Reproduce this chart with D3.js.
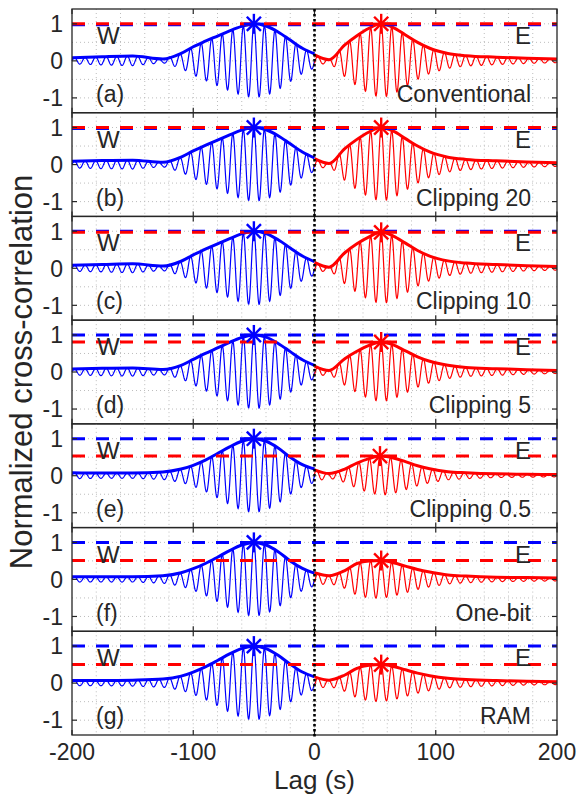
<!DOCTYPE html>
<html>
<head>
<meta charset="utf-8">
<script src="https://cdn.jsdelivr.net/npm/d3@7"></script>
<style>
  body { margin: 0; background: #fff; }
  text { font-family: "Liberation Sans", Arial, Helvetica, sans-serif; fill: #262626; }
</style>
</head>
<body>
<div id="chart-area"></div>
<script>
// panel labels / method names
var panelLetters = ['(a)', '(b)', '(c)', '(d)', '(e)', '(f)', '(g)'];
var methods = ['Conventional', 'Clipping 20', 'Clipping 10', 'Clipping 5', 'Clipping 0.5', 'One-bit', 'RAM'];

var lagTicks = [-200, -100, 0, 100, 200];
var yTicks = [-1, 0, 1];

// peak (star) positions
var westPeakLag = [-50, -50, -50, -50, -50, -50, -50];
var westPeak = [1, 1, 1, 1, 1, 1, 1];
var eastPeakLag = [55, 55, 55, 55, 54, 55, 55];
var eastPeak = [1.0, 1.0, 0.97, 0.81, 0.53, 0.51, 0.5];

// envelope knots (lag, s)
var westLags = [-200, -175, -150, -125, -110, -100, -90, -80, -70, -60, -50, -40, -30, -20, -10, 0];
var westEnv = [
  [0.08, 0.11, 0.13, 0.05, 0.2, 0.38, 0.53, 0.67, 0.81, 0.93, 1.0, 0.94, 0.78, 0.56, 0.34, 0.19],
  [0.09, 0.11, 0.12, 0.06, 0.2, 0.37, 0.52, 0.66, 0.8, 0.93, 1.0, 0.94, 0.78, 0.56, 0.34, 0.18],
  [0.08, 0.1, 0.12, 0.06, 0.19, 0.36, 0.52, 0.66, 0.8, 0.93, 1.0, 0.94, 0.77, 0.55, 0.33, 0.18],
  [0.08, 0.1, 0.11, 0.07, 0.18, 0.34, 0.5, 0.65, 0.8, 0.93, 1.0, 0.94, 0.77, 0.55, 0.33, 0.18],
  [0.08, 0.07, 0.07, 0.1, 0.18, 0.28, 0.42, 0.6, 0.78, 0.93, 1.0, 0.93, 0.75, 0.5, 0.3, 0.18],
  [0.07, 0.07, 0.07, 0.1, 0.18, 0.29, 0.43, 0.6, 0.78, 0.93, 1.0, 0.93, 0.75, 0.5, 0.3, 0.17],
  [0.07, 0.07, 0.08, 0.11, 0.19, 0.3, 0.44, 0.61, 0.79, 0.93, 1.0, 0.93, 0.75, 0.51, 0.3, 0.17]
];
var eastLags = [0, 12, 25, 35, 45, 55, 65, 75, 85, 95, 110, 125, 150, 175, 200];
var eastEnv = [
  [0.16, 0.03, 0.43, 0.68, 0.88, 1.0, 0.9, 0.7, 0.5, 0.34, 0.2, 0.14, 0.1, 0.07, 0.05],
  [0.16, 0.03, 0.43, 0.68, 0.88, 1.0, 0.9, 0.7, 0.5, 0.34, 0.2, 0.14, 0.1, 0.07, 0.05],
  [0.16, 0.03, 0.42, 0.66, 0.85, 0.97, 0.87, 0.68, 0.48, 0.33, 0.2, 0.14, 0.1, 0.07, 0.05],
  [0.16, 0.04, 0.36, 0.56, 0.72, 0.81, 0.73, 0.57, 0.41, 0.29, 0.18, 0.12, 0.09, 0.06, 0.04],
  [0.16, 0.06, 0.18, 0.34, 0.46, 0.53, 0.48, 0.38, 0.27, 0.19, 0.11, 0.08, 0.05, 0.04, 0.03],
  [0.18, 0.1, 0.24, 0.43, 0.5, 0.51, 0.45, 0.36, 0.27, 0.2, 0.12, 0.09, 0.06, 0.05, 0.04],
  [0.17, 0.08, 0.22, 0.4, 0.48, 0.5, 0.45, 0.36, 0.27, 0.2, 0.13, 0.1, 0.07, 0.05, 0.04]
];
var carrierPeriod = 8.7; // s, oscillation of the thin trace

document.addEventListener("DOMContentLoaded", function (event) {

  var W = 586, H = 798;
  var left = 72, right = 557, top0 = 9, bottom = 735;
  var ph = (bottom - top0) / 7;

  var svg = d3.select("#chart-area")
    .append("svg")
      .attr("width", W)
      .attr("height", H);

  var x = d3.scaleLinear().domain([-200, 200]).range([left, right]);

  var blue = '#0000ff', red = '#ff0000', ink = '#262626';

  function star(g, cx, cy, col) {
    var r = 10;
    var angles = [0, 45, 90, 135];
    angles.forEach(a => {
      var dx = r * Math.cos(a * Math.PI / 180), dy = r * Math.sin(a * Math.PI / 180);
      g.append('line')
        .attr('x1', cx - dx).attr('y1', cy - dy)
        .attr('x2', cx + dx).attr('y2', cy + dy)
        .attr('stroke', col).attr('stroke-width', 2.4);
    });
  }

  methods.forEach((m, i) => {
    var top = top0 + i * ph;
    var y = d3.scaleLinear().domain([-1.4, 1.4]).range([top + ph, top]);
    var g = svg.append('g').attr('class', 'panel');

    // dotted grid
    d3.range(-180, 200, 20).forEach(v => {
      g.append('line')
        .attr('x1', x(v)).attr('x2', x(v))
        .attr('y1', top).attr('y2', top + ph)
        .attr('stroke', '#bdbdbd').attr('stroke-width', 1)
        .attr('stroke-dasharray', '1,3');
    });
    [-1, -0.5, 0, 0.5, 1].forEach(v => {
      g.append('line')
        .attr('x1', left).attr('x2', right)
        .attr('y1', y(v)).attr('y2', y(v))
        .attr('stroke', '#bdbdbd').attr('stroke-width', 1)
        .attr('stroke-dasharray', '1,3');
    });

    var wEnv = d3.scaleLinear().domain(westLags).range(westEnv[i]);
    var eEnv = d3.scaleLinear().domain(eastLags).range(eastEnv[i]);

    // thin oscillating traces
    var wPts = d3.range(-200, 0.001, 0.25).map(t =>
      [t, wEnv(t) * Math.cos(2 * Math.PI * (t - westPeakLag[i]) / carrierPeriod)]);
    var ePts = d3.range(0, 200.001, 0.25).map(t =>
      [t, eEnv(t) * Math.cos(2 * Math.PI * (t - eastPeakLag[i]) / carrierPeriod)]);

    var line = d3.line().x(d => x(d[0])).y(d => y(d[1]));
    var envLine = d3.line().x(d => x(d[0])).y(d => y(d[1])).curve(d3.curveMonotoneX);

    g.append('path').attr('d', line(wPts))
      .attr('fill', 'none').attr('stroke', blue).attr('stroke-width', 1.2);
    g.append('path').attr('d', line(ePts))
      .attr('fill', 'none').attr('stroke', red).attr('stroke-width', 1.2);

    // thick envelopes
    g.append('path').attr('d', envLine(westLags.map((t, k) => [t, westEnv[i][k]])))
      .attr('fill', 'none').attr('stroke', blue).attr('stroke-width', 3);
    g.append('path').attr('d', envLine(eastLags.map((t, k) => [t, eastEnv[i][k]])))
      .attr('fill', 'none').attr('stroke', red).attr('stroke-width', 3);

    // dashed reference levels
    g.append('line')
      .attr('x1', left).attr('x2', right)
      .attr('y1', y(westPeak[i]) + (eastPeak[i] == westPeak[i] ? 1 : 0))
      .attr('y2', y(westPeak[i]) + (eastPeak[i] == westPeak[i] ? 1 : 0))
      .attr('stroke', blue).attr('stroke-width', 3)
      .attr('stroke-dasharray', '13,11');
    g.append('line')
      .attr('x1', left).attr('x2', right)
      .attr('y1', y(eastPeak[i])).attr('y2', y(eastPeak[i]))
      .attr('stroke', red).attr('stroke-width', 3)
      .attr('stroke-dasharray', '13,11');

    star(g, x(westPeakLag[i]), y(westPeak[i]), blue);
    star(g, x(eastPeakLag[i]), y(eastPeak[i]), red);

    // box + ticks
    g.append('rect')
      .attr('x', left).attr('y', top)
      .attr('width', right - left).attr('height', ph)
      .attr('fill', 'none').attr('stroke', ink).attr('stroke-width', 1.3);

    yTicks.forEach(v => {
      g.append('line').attr('x1', left).attr('x2', left + 5)
        .attr('y1', y(v)).attr('y2', y(v)).attr('stroke', ink).attr('stroke-width', 1.2);
      g.append('line').attr('x1', right).attr('x2', right - 5)
        .attr('y1', y(v)).attr('y2', y(v)).attr('stroke', ink).attr('stroke-width', 1.2);
      g.append('text')
        .attr('x', left - 9).attr('y', y(v))
        .attr('dy', '0.36em')
        .attr('text-anchor', 'end')
        .attr('font-size', '23px')
        .text(v);
    });
    lagTicks.forEach(v => {
      g.append('line').attr('x1', x(v)).attr('x2', x(v))
        .attr('y1', top + ph).attr('y2', top + ph - 5).attr('stroke', ink).attr('stroke-width', 1.2);
      g.append('line').attr('x1', x(v)).attr('x2', x(v))
        .attr('y1', top).attr('y2', top + 5).attr('stroke', ink).attr('stroke-width', 1.2);
    });

    // annotations
    g.append('text').attr('x', 97).attr('y', top + 35)
      .attr('font-size', '24px').text('W');
    g.append('text').attr('x', 531).attr('y', top + 35)
      .attr('text-anchor', 'end').attr('font-size', '24px').text('E');
    g.append('text').attr('x', 96).attr('y', top + 93)
      .attr('font-size', '23px').text(panelLetters[i]);
    g.append('text').attr('x', 531).attr('y', top + 93)
      .attr('text-anchor', 'end').attr('font-size', '23px').text(m);
  });

  // zero-lag dotted line across all panels
  svg.append('line')
    .attr('x1', x(0)).attr('x2', x(0))
    .attr('y1', top0).attr('y2', bottom + 3)
    .attr('stroke', '#000').attr('stroke-width', 2.6)
    .attr('stroke-dasharray', '2.5,2.5');

  // x tick labels
  svg.selectAll('.xtick')
    .data(lagTicks)
    .enter()
    .append('text')
      .attr('class', 'xtick')
      .attr('x', d => x(d))
      .attr('y', 760)
      .attr('text-anchor', 'middle')
      .attr('font-size', '23px')
      .text(d => d);

  svg.append('text')
    .attr('x', (left + right) / 2)
    .attr('y', 789)
    .attr('text-anchor', 'middle')
    .attr('font-size', '26px')
    .text('Lag (s)');

  svg.append('text')
    .attr('transform', 'translate(32,' + ((top0 + bottom) / 2) + ') rotate(-90)')
    .attr('text-anchor', 'middle')
    .attr('font-size', '31px')
    .text('Normalized cross-correlation');
});
</script>
</body>
</html>
